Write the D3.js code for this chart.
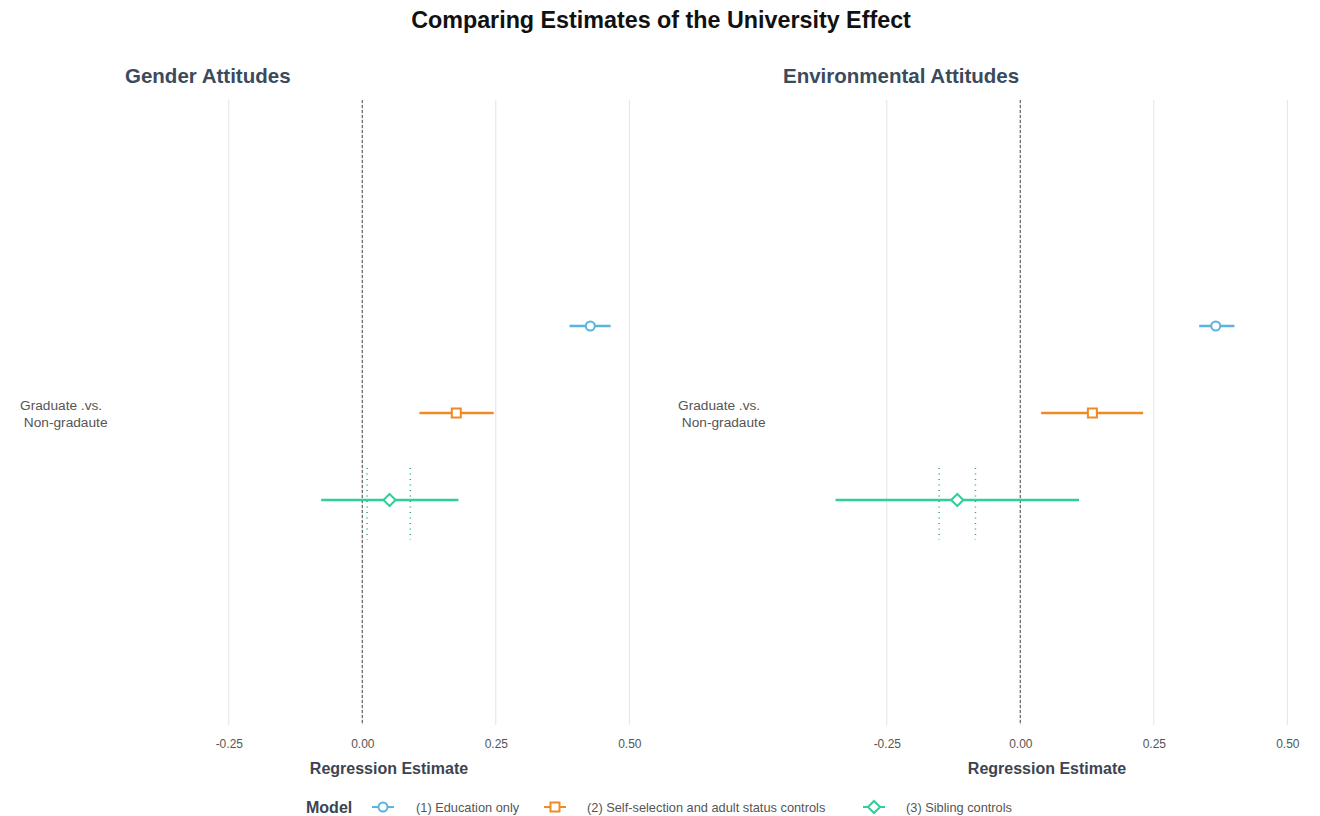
<!DOCTYPE html>
<html>
<head>
<meta charset="utf-8">
<script src="https://cdn.jsdelivr.net/npm/d3@7"></script>
<style>
  body { margin: 0; background: #fff; }
  svg { font-family: "Liberation Sans", Arial, sans-serif; }
</style>
</head>
<body>
<svg id="chart" width="1320" height="816"></svg>
<script>
// Panels, models and estimates
const panels = ["Gender Attitudes", "Environmental Attitudes"];
const models = ["(1) Education only", "(2) Self-selection and adult status controls", "(3) Sibling controls"];
const category = ["Graduate .vs.", " Non-gradaute"];
const xTicks = [-0.25, 0, 0.25, 0.5];

// point estimate, lower and upper bound, per panel
const genderEst   = [0.427, 0.176, 0.051];
const genderLow   = [0.388, 0.107, -0.077];
const genderHigh  = [0.465, 0.246, 0.180];
const envEst      = [0.366, 0.135, -0.118];
const envLow      = [0.335, 0.039, -0.346];
const envHigh     = [0.401, 0.230, 0.110];
// narrower dotted band around the sibling-controls estimate
const genderBand  = [0.009, 0.090];
const envBand     = [-0.152, -0.084];

const colors = ["#5ab4e0", "#ef8a25", "#2fcf9a"];
const shapes = ["circle", "square", "diamond"];

const svg = d3.select("#chart");

svg.append("text")
  .attr("x", 661).attr("y", 28)
  .attr("text-anchor", "middle")
  .attr("font-size", 23.3).attr("font-weight", "bold")
  .attr("fill", "#111")
  .text("Comparing Estimates of the University Effect");

const plotTop = 100, plotBottom = 725;
const panelLayout = [
  { left: 122, right: 656, titleX: 125, labelX: 20, est: genderEst, low: genderLow, high: genderHigh, band: genderBand },
  { left: 780, right: 1314, titleX: 783, labelX: 678, est: envEst, low: envLow, high: envHigh, band: envBand }
];

const y = d3.scaleBand().domain(models).range([326 - 87 * 0.5, 500 + 87 * 0.5]).paddingInner(0);

function drawMarker(g, shape, cx, cy, color, size) {
  if (shape === "circle") {
    g.append("circle").attr("cx", cx).attr("cy", cy).attr("r", size)
      .attr("fill", "#fff").attr("stroke", color).attr("stroke-width", 2);
  } else if (shape === "square") {
    g.append("rect").attr("x", cx - size).attr("y", cy - size)
      .attr("width", size * 2).attr("height", size * 2)
      .attr("fill", "#fff").attr("stroke", color).attr("stroke-width", 2);
  } else {
    const s = size * 1.35;
    g.append("path")
      .attr("d", `M${cx},${cy - s}L${cx + s},${cy}L${cx},${cy + s}L${cx - s},${cy}Z`)
      .attr("fill", "#fff").attr("stroke", color).attr("stroke-width", 2);
  }
}

const tickFmt = d => d3.format(".2f")(d).replace("\u2212", "-");

panelLayout.forEach((p, pi) => {
  const x = d3.scaleLinear().domain([-0.45, 0.55]).range([p.left, p.right]);
  const g = svg.append("g");

  // panel title
  g.append("text")
    .attr("x", p.titleX).attr("y", 83)
    .attr("font-size", 20.5).attr("font-weight", "bold")
    .attr("fill", "#3b4a5c")
    .text(panels[pi]);

  // vertical gridlines
  g.selectAll(".grid").data(xTicks).enter().append("line")
    .attr("x1", d => x(d)).attr("x2", d => x(d))
    .attr("y1", plotTop).attr("y2", plotBottom)
    .attr("stroke", "#e3e3e3").attr("stroke-width", 1);

  // x axis tick labels
  const axis = d3.axisBottom(x).tickValues(xTicks).tickFormat(tickFmt).tickSize(0).tickPadding(0);
  const ax = g.append("g").attr("transform", `translate(0,${739})`).call(axis);
  ax.select(".domain").remove();
  ax.selectAll("text").attr("font-size", 12).attr("fill", "#555")
    .attr("font-family", "Liberation Sans, Arial, sans-serif");

  // axis title
  g.append("text")
    .attr("x", (p.left + p.right) / 2).attr("y", 774)
    .attr("text-anchor", "middle")
    .attr("font-size", 16).attr("font-weight", "bold")
    .attr("fill", "#3d4450")
    .text("Regression Estimate");

  // category label
  const lab = g.append("text").attr("font-size", 13.7).attr("fill", "#555");
  category.forEach((t, i) => {
    lab.append("tspan").attr("x", p.labelX).attr("y", 410 + i * 17)
      .attr("xml:space", "preserve").style("white-space", "pre").text(t);
  });

  // reference line at zero
  g.append("line")
    .attr("x1", x(0)).attr("x2", x(0))
    .attr("y1", plotTop).attr("y2", plotBottom)
    .attr("stroke", "#666").attr("stroke-width", 1.2)
    .attr("stroke-dasharray", "3,2");

  // dotted band for sibling controls
  const yc = y(models[2]) + y.bandwidth() / 2;
  g.selectAll(".band").data(p.band).enter().append("line")
    .attr("x1", d => x(d)).attr("x2", d => x(d))
    .attr("y1", yc - 32).attr("y2", yc + 40)
    .attr("stroke", "#2aa58a").attr("stroke-width", 1.5)
    .attr("stroke-dasharray", "1,4.5");

  // intervals and points
  models.forEach((m, i) => {
    const cy = y(m) + y.bandwidth() / 2;
    g.append("line")
      .attr("x1", x(p.low[i])).attr("x2", x(p.high[i]))
      .attr("y1", cy).attr("y2", cy)
      .attr("stroke", colors[i]).attr("stroke-width", 2.5);
    drawMarker(g, shapes[i], x(p.est[i]), cy, colors[i], 4.5);
  });
});

// legend
const leg = svg.append("g");
leg.append("text").attr("x", 306).attr("y", 813)
  .attr("font-size", 16).attr("font-weight", "bold").attr("fill", "#3d4450").text("Model");
const legX = [383, 555, 874];
const legTextX = [416, 587, 906];
models.forEach((m, i) => {
  leg.append("line").attr("x1", legX[i] - 11).attr("x2", legX[i] + 11)
    .attr("y1", 807).attr("y2", 807).attr("stroke", colors[i]).attr("stroke-width", 2);
  drawMarker(leg, shapes[i], legX[i], 807, colors[i], 4.5);
  leg.append("text").attr("x", legTextX[i]).attr("y", 811.5)
    .attr("font-size", 12.8).attr("fill", "#555").text(m);
});
</script>
</body>
</html>
